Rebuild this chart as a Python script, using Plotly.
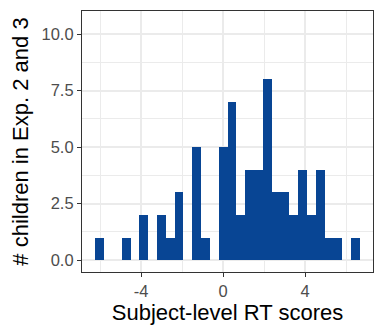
import plotly.graph_objects as go

# Histogram of subject-level RT scores (30 bins, width 0.43)
bin_centers = [-6.02, -5.59, -5.16, -4.73, -4.30, -3.87, -3.44, -3.01, -2.58, -2.15,
               -1.72, -1.29, -0.86, -0.43, 0.00, 0.43, 0.86, 1.29, 1.72, 2.15,
               2.58, 3.01, 3.44, 3.87, 4.30, 4.73, 5.16, 5.59, 6.02, 6.45]
counts = [1, 0, 0, 1, 0, 2, 0, 2, 1, 3,
          0, 5, 1, 0, 5, 7, 2, 4, 4, 8,
          3, 3, 2, 4, 2, 4, 1, 1, 0, 1]
bin_width = 0.43

x_ticks = [-4, 0, 4]
y_ticks = [0, 2.5, 5, 7.5, 10]
y_tick_text = ["0.0", "2.5", "5.0", "7.5", "10.0"]

FONT = "Liberation Sans, Arial, Helvetica, sans-serif"
BAR = "#084594"
GRID = "#EBEBEB"
FRAME = "#333333"

fig = go.Figure(
    go.Bar(
        x=bin_centers,
        y=counts,
        width=bin_width,
        marker=dict(color=BAR, line=dict(width=0)),
        hoverinfo="x+y",
    )
)

axis_common = dict(
    showline=True,
    mirror=True,
    linecolor=FRAME,
    linewidth=1.2,
    ticks="outside",
    ticklen=4,
    tickwidth=1.2,
    tickcolor=FRAME,
    gridcolor=GRID,
    gridwidth=1.8,
    zeroline=False,
    tickfont=dict(family=FONT, size=16.5, color="#4D4D4D"),
)

fig.update_xaxes(
    **axis_common,
    range=[-6.88, 7.31],
    tickvals=x_ticks,
    ticktext=[str(v) for v in x_ticks],
    minor=dict(tickvals=[-6, -2, 2, 6], showgrid=True, gridcolor=GRID,
               gridwidth=1.1, ticks=""),
    title=dict(text="Subject-level RT scores",
               font=dict(family=FONT, size=22, color="black"), standoff=4),
)
fig.update_yaxes(
    **axis_common,
    range=[-0.525, 11.025],
    tickvals=y_ticks,
    ticktext=y_tick_text,
    minor=dict(tickvals=[1.25, 3.75, 6.25, 8.75], showgrid=True, gridcolor=GRID,
               gridwidth=1.1, ticks=""),
    title=dict(text="# children in Exp. 2 and 3",
               font=dict(family=FONT, size=22, color="black"), standoff=6),
)

fig.update_layout(
    width=374,
    height=325,
    margin=dict(l=82, r=1, t=11, b=53),
    paper_bgcolor="white",
    plot_bgcolor="white",
    showlegend=False,
    bargap=0,
)

fig.write_html("out.html")
